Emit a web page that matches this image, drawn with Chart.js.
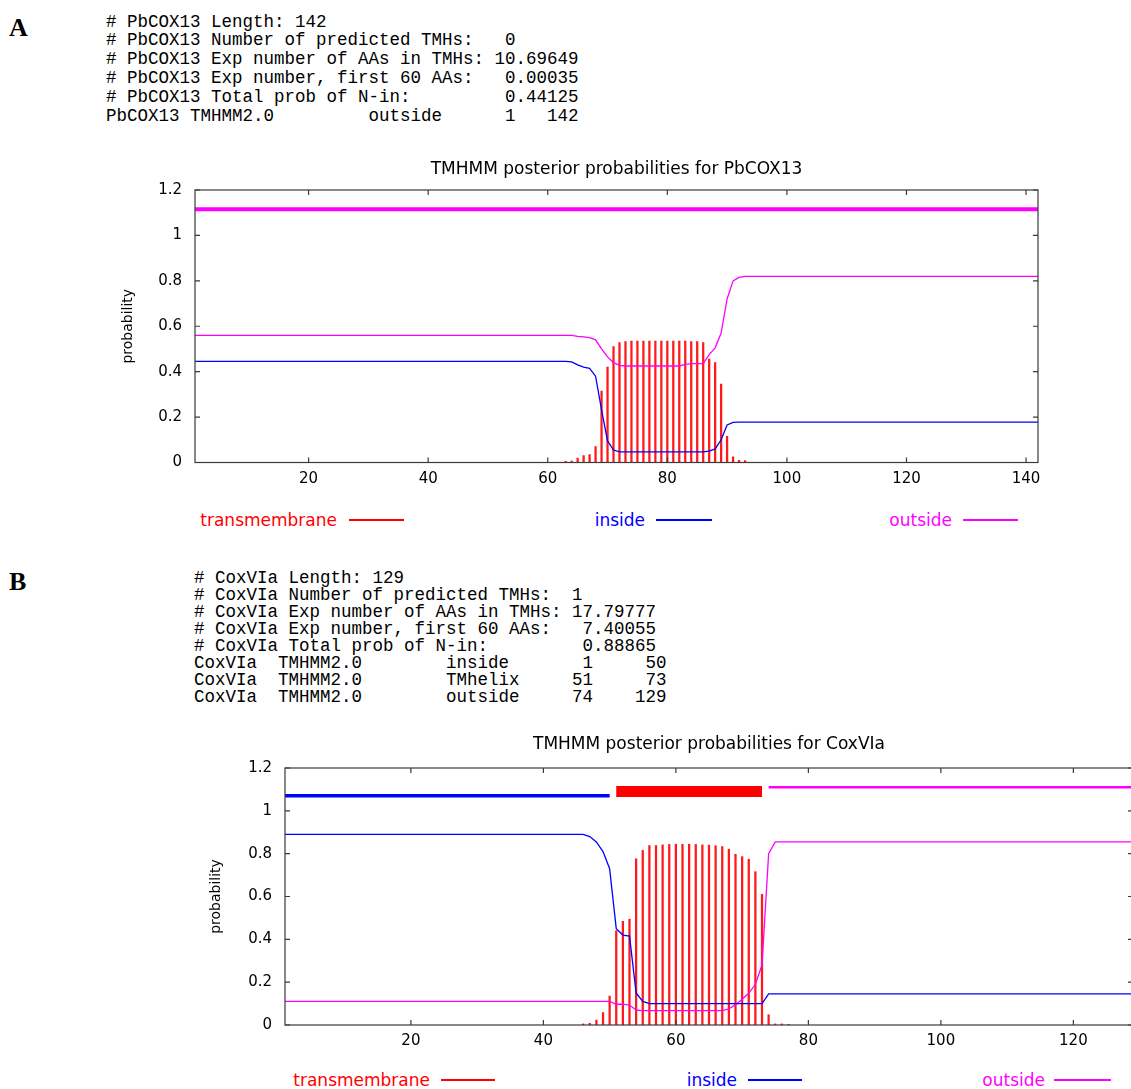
<!DOCTYPE html>
<html lang="en">

<head>
  <meta charset="UTF-8" />
  <title>TMHMM posterior probabilities</title>
  <script src="https://cdn.jsdelivr.net/npm/chart.js@4"></script>
  <style>
    html, body { margin: 0; padding: 0; background: #fff; }
    body { position: relative; width: 1131px; height: 1089px; overflow: hidden; }
    .letter { position: absolute; left: 9px; margin: 0; font: bold 26px "Liberation Serif", "Times New Roman", serif; line-height: 30px; }
    pre.tmhmm { position: absolute; margin: 0; font: 17.5px "Liberation Mono", "Courier New", monospace; color: #000; }
    .plot { position: absolute; }
    .key-text { position: absolute; font: 17px "DejaVu Sans", sans-serif; line-height: 20px; white-space: nowrap; text-align: right; }
    .key-line { position: absolute; height: 1.5px; }
  </style>
</head>

<body>
  <div class="letter" style="top:13px">A</div>
  <pre class="tmhmm" style="left:106px; top:12.6px; line-height:18.8px">
# PbCOX13 Length: 142
# PbCOX13 Number of predicted TMHs:   0
# PbCOX13 Exp number of AAs in TMHs: 10.69649
# PbCOX13 Exp number, first 60 AAs:   0.00035
# PbCOX13 Total prob of N-in:         0.44125
PbCOX13 TMHMM2.0         outside      1   142</pre>

  <div class="plot" style="left:100px; top:150px"><canvas id="plotA" width="950" height="345"></canvas></div>

  <div class="key-text" style="right:794px; top:510px; color:#ff0000">transmembrane</div>
  <div class="key-line" style="left:349px; width:55px; top:519px; background:#ff0000"></div>
  <div class="key-text" style="right:486px; top:510px; color:#0000ff">inside</div>
  <div class="key-line" style="left:656px; width:56px; top:519px; background:#0000ff"></div>
  <div class="key-text" style="right:179px; top:510px; color:#ff00ff">outside</div>
  <div class="key-line" style="left:963px; width:55px; top:519px; background:#ff00ff"></div>

  <div class="letter" style="top:567px">B</div>
  <pre class="tmhmm" style="left:194px; top:569.5px; line-height:17px">
# CoxVIa Length: 129
# CoxVIa Number of predicted TMHs:  1
# CoxVIa Exp number of AAs in TMHs: 17.79777
# CoxVIa Exp number, first 60 AAs:   7.40055
# CoxVIa Total prob of N-in:         0.88865
CoxVIa  TMHMM2.0        inside       1     50
CoxVIa  TMHMM2.0        TMhelix     51     73
CoxVIa  TMHMM2.0        outside     74    129</pre>

  <div class="plot" style="left:190px; top:720px"><canvas id="plotB" width="950" height="340"></canvas></div>

  <div class="key-text" style="right:701px; top:1070px; color:#ff0000">transmembrane</div>
  <div class="key-line" style="left:441px; width:54px; top:1079px; background:#ff0000"></div>
  <div class="key-text" style="right:394px; top:1070px; color:#0000ff">inside</div>
  <div class="key-line" style="left:748px; width:54px; top:1079px; background:#0000ff"></div>
  <div class="key-text" style="right:86px; top:1070px; color:#ff00ff">outside</div>
  <div class="key-line" style="left:1054px; width:57px; top:1079px; background:#ff00ff"></div>

  <script>
    // shared axes
    const yTicks = [0, 0.2, 0.4, 0.6, 0.8, 1, 1.2];

    // PbCOX13 (142 aa)
    const lengthA = 142;
    const xTicksA = [20, 40, 60, 80, 100, 120, 140];
    const tmPosA = [63, 64, 65, 66, 67, 68, 69, 70, 71, 72, 73, 74, 75, 76, 77, 78,
      79, 80, 81, 82, 83, 84, 85, 86, 87, 88, 89, 90, 91, 92, 93];
    const tmProbA = [0.005, 0.006, 0.02, 0.03, 0.035, 0.07, 0.315, 0.42, 0.51, 0.528, 0.533, 0.535, 0.535, 0.535, 0.535, 0.535,
      0.535, 0.535, 0.535, 0.535, 0.535, 0.533, 0.532, 0.528, 0.455, 0.44, 0.345, 0.115, 0.025, 0.01, 0.008];
    const insidePosA = [1, 63, 64, 65, 66, 67, 68, 69, 70, 71, 72, 86, 87, 88, 89, 90, 91, 92, 142];
    const insideProbA = [0.445, 0.445, 0.443, 0.43, 0.42, 0.415, 0.38, 0.232, 0.095, 0.055, 0.047, 0.047, 0.05, 0.06, 0.1, 0.165, 0.177, 0.178, 0.178];
    const outsidePosA = [1, 64, 65, 66, 67, 68, 69, 70, 71, 72, 73, 82, 83, 84, 86, 87, 88, 89, 90, 91, 92, 93, 142];
    const outsideProbA = [0.56, 0.56, 0.555, 0.553, 0.55, 0.54, 0.5, 0.465, 0.44, 0.428, 0.425, 0.425, 0.432, 0.435, 0.435, 0.475, 0.505, 0.57, 0.72, 0.8, 0.815, 0.82, 0.82];
    const regionStartA = [1];
    const regionEndA = [142];
    const regionKindA = ['outside'];

    // CoxVIa (129 aa)
    const lengthB = 129;
    const xTicksB = [20, 40, 60, 80, 100, 120];
    const tmPosB = [46, 47, 48, 49, 50, 51, 52, 53, 54, 55, 56, 57, 58, 59, 60, 61,
      62, 63, 64, 65, 66, 67, 68, 69, 70, 71, 72, 73, 74, 75, 76, 77];
    const tmProbB = [0.005, 0.008, 0.023, 0.058, 0.135, 0.44, 0.484, 0.494, 0.776, 0.815, 0.838, 0.838, 0.841, 0.843, 0.844, 0.844,
      0.844, 0.843, 0.841, 0.84, 0.837, 0.833, 0.821, 0.797, 0.786, 0.774, 0.716, 0.61, 0.048, 0.005, 0.005, 0.003];
    const insidePosB = [1, 46, 47, 48, 49, 50, 51, 52, 53, 54, 55, 56, 73, 74, 129];
    const insideProbB = [0.89, 0.89, 0.88, 0.855, 0.81, 0.73, 0.45, 0.42, 0.415, 0.15, 0.11, 0.1, 0.1, 0.145, 0.145];
    const outsidePosB = [1, 50, 51, 52, 53, 54, 55, 67, 68, 69, 70, 71, 72, 73, 74, 75, 129];
    const outsideProbB = [0.11, 0.11, 0.097, 0.097, 0.093, 0.07, 0.067, 0.067, 0.075, 0.095, 0.12, 0.148, 0.19, 0.28, 0.8, 0.855, 0.855];
    const regionStartB = [1, 51, 74];
    const regionEndB = [50, 73, 129];
    const regionKindB = ['inside', 'TMhelix', 'outside'];

    const colours = { inside: '#0000ff', outside: '#ff00ff', TMhelix: '#ff0000' };
    const tickFont = { family: 'DejaVu Sans', size: 15 };

    function pairs(xs, ys) {
      return xs.map((x, i) => ({ x: x, y: ys[i] }));
    }

    // gnuplot style box with inward tick marks
    const frame = {
      id: 'frame',
      afterDatasetsDraw(chart) {
        const ctx = chart.ctx, a = chart.chartArea;
        const sx = chart.scales.x, sy = chart.scales.y;
        ctx.save();
        ctx.strokeStyle = '#3a3a3a';
        ctx.lineWidth = 1.2;
        ctx.strokeRect(a.left, a.top, a.right - a.left, a.bottom - a.top);
        ctx.beginPath();
        sx.ticks.forEach(t => {
          const px = sx.getPixelForValue(t.value);
          ctx.moveTo(px, a.bottom); ctx.lineTo(px, a.bottom - 5);
          ctx.moveTo(px, a.top); ctx.lineTo(px, a.top + 5);
        });
        sy.ticks.forEach(t => {
          const py = sy.getPixelForValue(t.value);
          ctx.moveTo(a.left, py); ctx.lineTo(a.left + 5, py);
          ctx.moveTo(a.right, py); ctx.lineTo(a.right - 5, py);
        });
        ctx.stroke();
        ctx.restore();
      }
    };

    function drawPlot(id, o) {
      const regionSets = o.regionKind.map((k, i) => ({
        data: [{ x: o.regionStart[i], y: o.levels[k] }, { x: o.regionEnd[i], y: o.levels[k] }],
        borderColor: colours[k],
        borderWidth: o.widths[k],
        borderCapStyle: 'butt',
        pointRadius: 0
      }));

      new Chart(document.getElementById(id), {
        type: 'line',
        data: {
          datasets: [
            ...regionSets,
            { label: 'inside', data: pairs(o.insidePos, o.insideProb), borderColor: '#0000ff', borderWidth: 1.3, pointRadius: 0, tension: 0 },
            { label: 'outside', data: pairs(o.outsidePos, o.outsideProb), borderColor: '#ff00ff', borderWidth: 1.3, pointRadius: 0, tension: 0 },
            { type: 'bar', label: 'transmembrane', data: pairs(o.tmPos, o.tmProb), backgroundColor: '#ff1a1a', barThickness: 1.6, order: 10 }
          ]
        },
        options: {
          responsive: false,
          animation: false,
          devicePixelRatio: 1,
          layout: { padding: { top: 0, right: o.padRight, bottom: 0, left: 0 } },
          plugins: {
            legend: { display: false },
            tooltip: { enabled: false },
            title: {
              display: true,
              text: o.title,
              fullSize: false,
              color: '#000',
              font: { family: 'DejaVu Sans', size: 17, weight: 'normal' },
              padding: { top: o.titleTop, bottom: o.titleBottom }
            }
          },
          scales: {
            x: {
              type: 'linear',
              min: 1,
              max: o.length,
              offset: false,
              grid: { display: false, drawTicks: false },
              border: { display: false },
              ticks: { padding: o.xPad, color: '#000', font: tickFont, maxRotation: 0 },
              afterBuildTicks: s => { s.ticks = o.xTicks.map(v => ({ value: v })); },
              afterFit: s => { s.height = o.xAxisHeight; s.paddingLeft = 0; s.paddingRight = 0; }
            },
            y: {
              min: 0,
              max: 1.2,
              grid: { display: false, drawTicks: false },
              border: { display: false },
              ticks: { padding: 13, color: '#000', font: tickFont, callback: v => String(+v.toFixed(1)) },
              title: {
                display: true,
                text: 'probability',
                color: '#000',
                font: { family: 'DejaVu Sans', size: 14 },
                padding: { top: o.yTitlePad, bottom: 0 }
              },
              afterBuildTicks: s => { s.ticks = yTicks.map(v => ({ value: v })); },
              afterFit: s => { s.width = 95; s.paddingTop = 0; s.paddingBottom = 0; }
            }
          }
        },
        plugins: [frame]
      });
    }

    drawPlot('plotA', {
      title: 'TMHMM posterior probabilities for PbCOX13',
      length: lengthA, xTicks: xTicksA,
      tmPos: tmPosA, tmProb: tmProbA,
      insidePos: insidePosA, insideProb: insideProbA,
      outsidePos: outsidePosA, outsideProb: outsideProbA,
      regionStart: regionStartA, regionEnd: regionEndA, regionKind: regionKindA,
      levels: { outside: 1.115 },
      widths: { outside: 4 },
      padRight: 12, titleTop: 9, titleBottom: 10.6,
      xAxisHeight: 32.5, xPad: 8, yTitlePad: 19.6
    });

    drawPlot('plotB', {
      title: 'TMHMM posterior probabilities for CoxVIa',
      length: lengthB, xTicks: xTicksB,
      tmPos: tmPosB, tmProb: tmProbB,
      insidePos: insidePosB, insideProb: insideProbB,
      outsidePos: outsidePosB, outsideProb: outsideProbB,
      regionStart: regionStartB, regionEnd: regionEndB, regionKind: regionKindB,
      levels: { inside: 1.07, TMhelix: 1.09, outside: 1.11 },
      widths: { inside: 3.5, TMhelix: 11, outside: 2.5 },
      padRight: 7, titleTop: 14.8, titleBottom: 12.8,
      xAxisHeight: 35, xPad: 7, yTitlePad: 18.3
    });
  </script>
</body>

</html>
